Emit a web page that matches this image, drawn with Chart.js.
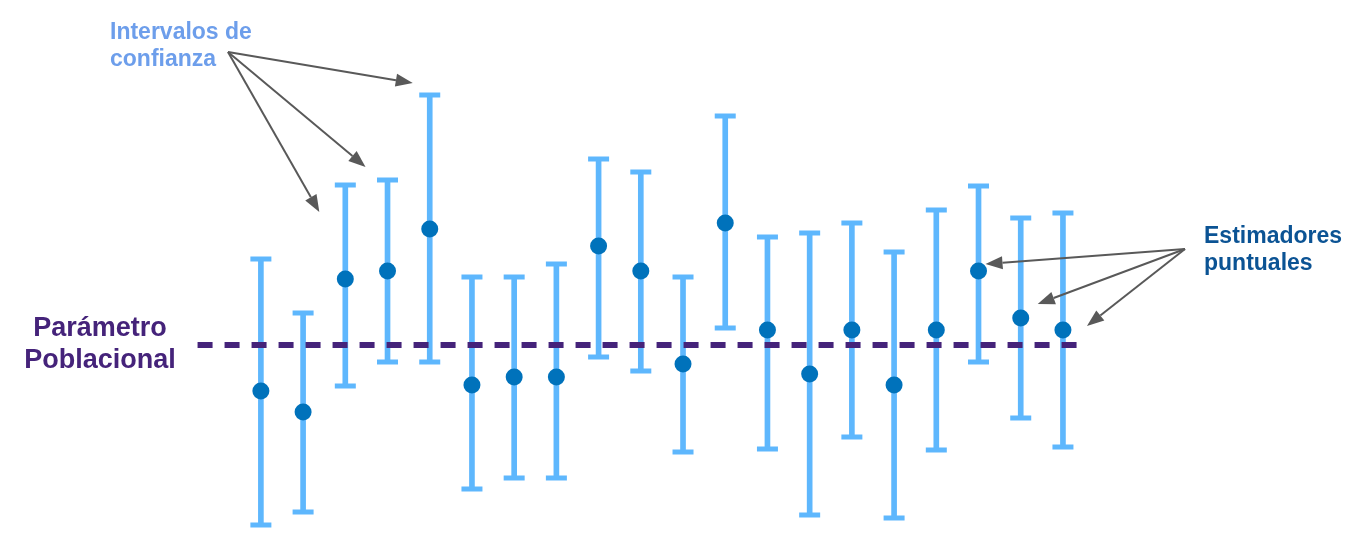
<!DOCTYPE html>
<html lang="es">
<head>
<meta charset="utf-8">
<title>Intervalos de confianza</title>
<script src="https://cdn.jsdelivr.net/npm/chart.js@4.4.1/dist/chart.umd.min.js"></script>
<style>
  html, body { margin: 0; padding: 0; background: #ffffff; }
  #wrap { width: 1350px; height: 548px; position: relative; }
</style>
</head>
<body>
<div id="wrap"><canvas id="ciChart"></canvas></div>
<script>
// datos (unidades arbitrarias, el parámetro poblacional es 0)
const muestras = [1, 2, 3, 4, 5, 6, 7, 8, 9, 10, 11, 12, 13, 14, 15, 16, 17, 18, 19, 20];
const estimadores = [-4.6, -6.7, 6.6, 7.4, 11.6, -4.0, -3.2, -3.2, 9.9, 7.4, -1.9, 12.2, 1.5, -2.9, 1.5, -4.0, 1.5, 7.4, 2.7, 1.5];
const limiteInferior = [-18.0, -16.7, -4.1, -1.7, -1.7, -14.4, -13.3, -13.3, -1.2, -2.6, -10.7, 1.7, -10.4, -17.0, -9.2, -17.3, -10.5, -1.7, -7.3, -10.2];
const limiteSuperior = [8.6, 3.2, 16.0, 16.5, 25.0, 6.8, 6.8, 8.1, 18.6, 17.3, 6.8, 22.9, 10.8, 11.2, 12.2, 9.3, 13.5, 15.9, 12.7, 13.2];
const parametro = 0;
const tramoParametro = [-0.5, 20.35]; // desde / hasta dónde va la línea punteada (en nº de muestra)

const textoIntervalos = ["Intervalos de", "confianza"];
const textoParametro = ["Parámetro", "Poblacional"];
const textoEstimadores = ["Estimadores", "puntuales"];

const colorIntervalo = "#5eb7fd";
const colorPunto = "#0072bb";
const colorParametro = "#45237a";
const colorFlecha = "#595959";

function flecha(ctx, x0, y0, x1, y1) {
  const ang = Math.atan2(y1 - y0, x1 - x0);
  const largo = 17, ancho = 6.5;
  const bx = x1 - largo * Math.cos(ang), by = y1 - largo * Math.sin(ang);
  ctx.beginPath();
  ctx.moveTo(x0, y0);
  ctx.lineTo(bx, by);
  ctx.stroke();
  ctx.beginPath();
  ctx.moveTo(x1, y1);
  ctx.lineTo(bx + ancho * Math.sin(ang), by - ancho * Math.cos(ang));
  ctx.lineTo(bx - ancho * Math.sin(ang), by + ancho * Math.cos(ang));
  ctx.closePath();
  ctx.fill();
}

// dibuja los textos y las flechas encima del gráfico
const anotaciones = {
  id: "anotaciones",
  afterDatasetsDraw(chart) {
    const ctx = chart.ctx;
    const sx = chart.scales.x, sy = chart.scales.y;
    const px = i => sx.getPixelForValue(muestras[i]);

    ctx.save();
    ctx.textBaseline = "alphabetic";

    ctx.fillStyle = "#6d9eeb";
    ctx.font = "bold 23px 'Liberation Sans', Arial, sans-serif";
    ctx.textAlign = "left";
    ctx.fillText(textoIntervalos[0], 110, 39);
    ctx.fillText(textoIntervalos[1], 110, 66);

    ctx.fillStyle = colorParametro;
    ctx.font = "bold 27px 'Liberation Sans', Arial, sans-serif";
    ctx.textAlign = "center";
    ctx.fillText(textoParametro[0], 100, 336);
    ctx.fillText(textoParametro[1], 100, 368);

    ctx.fillStyle = "#0b5394";
    ctx.font = "bold 23px 'Liberation Sans', Arial, sans-serif";
    ctx.textAlign = "left";
    ctx.fillText(textoEstimadores[0], 1204, 243);
    ctx.fillText(textoEstimadores[1], 1204, 270);

    ctx.strokeStyle = colorFlecha;
    ctx.fillStyle = colorFlecha;
    ctx.lineWidth = 2;

    // flechas hacia los intervalos 3, 4 y 5
    flecha(ctx, 228, 52, px(4) - 17, sy.getPixelForValue(limiteSuperior[4]) - 12);
    flecha(ctx, 228, 52, px(3) - 22, sy.getPixelForValue(limiteSuperior[3]) - 13);
    flecha(ctx, 228, 52, px(2) - 26, sy.getPixelForValue(limiteSuperior[2]) + 27);

    // flechas hacia los estimadores 18, 19 y 20
    flecha(ctx, 1185, 249, px(17) + 7, sy.getPixelForValue(estimadores[17]) - 7);
    flecha(ctx, 1185, 249, px(18) + 17, sy.getPixelForValue(estimadores[18]) - 14);
    flecha(ctx, 1185, 249, px(19) + 24, sy.getPixelForValue(estimadores[19]) - 4);

    ctx.restore();
  }
};

const ctx = document.getElementById("ciChart").getContext("2d");

new Chart(ctx, {
  type: "bar",
  data: {
    datasets: [
      {
        // punto estimado
        type: "scatter",
        data: muestras.map((m, i) => ({ x: m, y: estimadores[i] })),
        pointRadius: 8.5,
        pointBackgroundColor: colorPunto,
        pointBorderWidth: 0,
        order: 0
      },
      {
        // parámetro poblacional
        type: "line",
        data: tramoParametro.map(v => ({ x: v, y: parametro })),
        borderColor: colorParametro,
        borderWidth: 6,
        borderDash: [15, 12],
        pointRadius: 0,
        fill: false,
        order: 1
      },
      {
        // topes de los intervalos
        type: "scatter",
        data: muestras.flatMap((m, i) => [
          { x: m, y: limiteInferior[i] },
          { x: m, y: limiteSuperior[i] }
        ]),
        pointStyle: "line",
        pointRadius: 10.5,
        pointBorderWidth: 5,
        pointBorderColor: colorIntervalo,
        order: 2
      },
      {
        // barra vertical del intervalo
        type: "bar",
        data: muestras.map((m, i) => ({ x: m, y: [limiteInferior[i], limiteSuperior[i]] })),
        backgroundColor: colorIntervalo,
        borderWidth: 0,
        barThickness: 5,
        order: 3
      }
    ]
  },
  options: {
    responsive: true,
    maintainAspectRatio: false,
    animation: false,
    events: [],
    layout: { padding: 0, autoPadding: false },
    plugins: {
      legend: { display: false },
      tooltip: { enabled: false }
    },
    scales: {
      x: { type: "linear", min: -5.18, max: 26.8, offset: false, display: false },
      y: { type: "linear", min: -20.3, max: 34.5, display: false }
    }
  },
  plugins: [anotaciones]
});
</script>
</body>
</html>
